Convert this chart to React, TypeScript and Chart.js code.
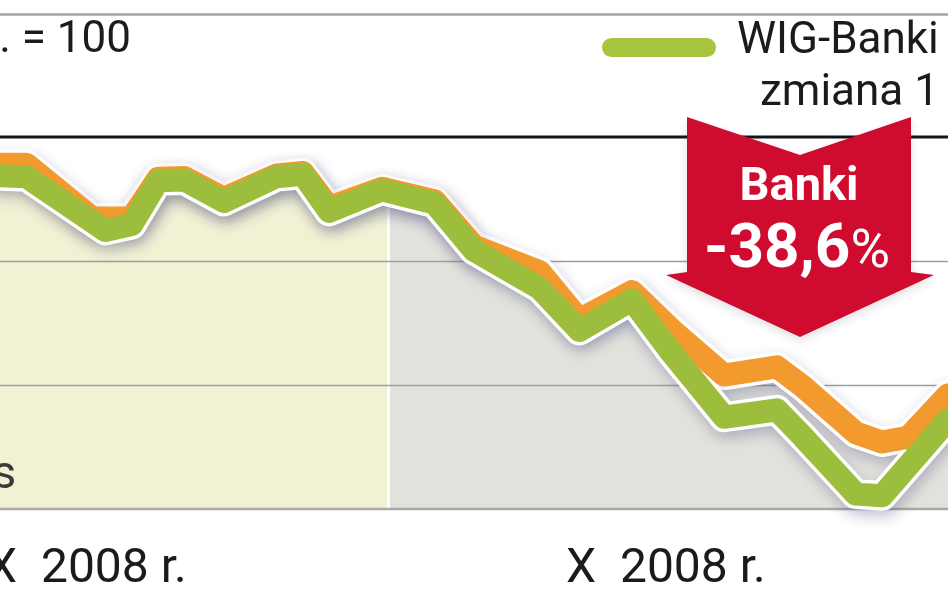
import React, { useEffect, useRef } from 'react';
import { Chart, registerables } from 'chart.js';

Chart.register(...registerables);

// Oś X: kolejne punkty czasowe widocznego fragmentu wykresu (0–72)
const T_BANKI = [0, 2, 8, 10, 12, 14, 17, 21, 23, 25, 29, 33, 36, 41, 44, 48, 51, 55, 59, 61, 65, 67, 72];
const WIG_BANKI = [100.3, 100.2, 93.7, 94.4, 99.7, 99.8, 97.2, 100.2, 100.5, 96.0, 98.6, 97.0, 91.3, 86.7, 81.6, 85.3, 78.9, 71.1, 72.0, 68.7, 61.8, 61.6, 70.8];
const T_WIG = [0, 2, 7, 10, 12, 14, 17, 21, 23, 25, 29, 33, 36, 41, 44, 48, 51, 55, 59, 61, 65, 67, 69, 72];
const WIG = [101.7, 101.7, 95.2, 95.2, 100.0, 100.1, 97.6, 100.4, 100.7, 96.5, 98.8, 97.3, 91.8, 88.7, 82.9, 86.3, 81.7, 76.2, 77.2, 74.8, 69.2, 68.1, 68.7, 73.8];

const Y_MIN = 60;
const Y_MAX = 105;
const GRID_VALUES = [75, 90];
const SPLIT_T = 29.5; // granica miesięcy (tło żółte / szare)

const TOP_LEFT_TEXT = '. = 100';
const LEGEND_LINE1 = 'WIG-Banki';
const LEGEND_LINE2 = 'zmiana 1';
const X_LABELS = ['X  2008 r.', 'X  2008 r.'];
const SIDE_TEXT = 's';
const ARROW_TITLE = 'Banki';
const ARROW_VALUE = '-38,6';
const ARROW_UNIT = '%';

const ORANGE = '#f29a2e';
const GREEN = '#9dbd3c';
const LEGEND_GREEN = '#a8c33f';
const YELLOW = '#f2f1d4';
const GRAY = '#e2e2dd';
const RED = '#cf0b30';
const TEXT = '#1b1b1b';

const OUTLINE_IDX = [2, 3];
const FILL_IDX = 4;

const decor = {
  id: 'decor',
  beforeDraw(chart: any) {
    const ctx = chart.ctx;
    ctx.save();
    ctx.fillStyle = '#ffffff';
    ctx.fillRect(0, 0, chart.width, chart.height);
    ctx.restore();
  },
  beforeDatasetDraw(chart: any, args: any) {
    if (OUTLINE_IDX.includes(args.index)) {
      const ctx = chart.ctx;
      ctx.save();
      ctx.shadowColor = 'rgba(70,70,120,0.33)';
      ctx.shadowBlur = 14;
      ctx.shadowOffsetX = 2;
      ctx.shadowOffsetY = 6;
    }
  },
  afterDatasetDraw(chart: any, args: any) {
    const ctx = chart.ctx;
    if (OUTLINE_IDX.includes(args.index)) {
      ctx.restore();
    }
    if (args.index === FILL_IDX) {
      const y = chart.scales.y;
      const { left, right } = chart.chartArea;
      ctx.save();
      ctx.strokeStyle = '#9e9e9e';
      ctx.lineWidth = 1.6;
      GRID_VALUES.forEach((v) => {
        const py = Math.round(y.getPixelForValue(v)) + 0.5;
        ctx.beginPath();
        ctx.moveTo(left, py);
        ctx.lineTo(right, py);
        ctx.stroke();
      });
      ctx.strokeStyle = '#a9a9a9';
      ctx.lineWidth = 2.5;
      const pb = y.getPixelForValue(Y_MIN);
      ctx.beginPath();
      ctx.moveTo(left, pb);
      ctx.lineTo(right, pb);
      ctx.stroke();
      ctx.restore();
    }
  },
  afterDraw(chart: any) {
    const ctx = chart.ctx;
    const y = chart.scales.y;
    const { left, right } = chart.chartArea;
    ctx.save();
    // top rules
    ctx.strokeStyle = '#a3a3a3';
    ctx.lineWidth = 2.5;
    ctx.beginPath();
    ctx.moveTo(0, 14.5);
    ctx.lineTo(chart.width, 14.5);
    ctx.stroke();
    ctx.strokeStyle = '#151515';
    ctx.lineWidth = 3;
    const pt = y.getPixelForValue(Y_MAX);
    ctx.beginPath();
    ctx.moveTo(left, pt);
    ctx.lineTo(right, pt);
    ctx.stroke();

    // texts
    ctx.fillStyle = TEXT;
    ctx.textBaseline = 'alphabetic';
    ctx.font = '44px Roboto';
    ctx.textAlign = 'right';
    ctx.fillText(TOP_LEFT_TEXT, 131, 52);
    ctx.textAlign = 'left';
    ctx.fillText(LEGEND_LINE1, 737, 53);
    ctx.fillText(LEGEND_LINE2, 760, 105);
    ctx.font = '48px Roboto';
    ctx.fillText(X_LABELS[0], -13, 582);
    ctx.fillText(X_LABELS[1], 566, 582);
    ctx.fillStyle = '#3a3a3a';
    ctx.font = '47px Roboto';
    ctx.fillText(SIDE_TEXT, -8, 488);

    // legend bar
    ctx.fillStyle = LEGEND_GREEN;
    ctx.beginPath();
    (ctx as any).roundRect(602, 38, 114, 19, 9.5);
    ctx.fill();

    // arrow
    ctx.save();
    ctx.shadowColor = 'rgba(0,0,0,0.12)';
    ctx.shadowBlur = 10;
    ctx.shadowOffsetY = 4;
    ctx.fillStyle = RED;
    ctx.beginPath();
    ctx.moveTo(687, 117);
    ctx.lineTo(800, 155);
    ctx.lineTo(911, 117);
    ctx.lineTo(911, 272);
    ctx.lineTo(934, 275);
    ctx.lineTo(800, 337);
    ctx.lineTo(666, 275);
    ctx.lineTo(687, 272);
    ctx.closePath();
    ctx.fill();
    ctx.restore();

    ctx.fillStyle = '#ffffff';
    ctx.textAlign = 'center';
    ctx.font = 'bold 47px Roboto';
    ctx.fillText(ARROW_TITLE, 799, 200);
    ctx.font = 'bold 62px Roboto';
    const w1 = ctx.measureText(ARROW_VALUE).width;
    ctx.font = '54px Roboto';
    const w2 = ctx.measureText(ARROW_UNIT).width;
    const start = 797 - (w1 + w2) / 2;
    ctx.textAlign = 'left';
    ctx.font = 'bold 62px Roboto';
    ctx.fillText(ARROW_VALUE, start, 267);
    ctx.font = '54px Roboto';
    ctx.fillText(ARROW_UNIT, start + w1, 267);
    ctx.restore();
  },
};

const bgColor = (c: any) => {
  const chart = c.chart;
  const area = chart.chartArea;
  if (!area || !chart.scales || !chart.scales.x) return YELLOW;
  const xs = chart.scales.x.getPixelForValue(SPLIT_T);
  const w = area.right - area.left;
  const clamp = (v: number) => Math.max(0, Math.min(1, v));
  const f1 = clamp((xs - 1.5 - area.left) / w);
  const f2 = clamp((xs + 1.5 - area.left) / w);
  const g = chart.ctx.createLinearGradient(area.left, 0, area.right, 0);
  g.addColorStop(0, YELLOW);
  g.addColorStop(f1, YELLOW);
  g.addColorStop(f1, '#ffffff');
  g.addColorStop(f2, '#ffffff');
  g.addColorStop(f2, GRAY);
  g.addColorStop(1, GRAY);
  return g;
};

export default function App() {
  const ref = useRef<HTMLCanvasElement>(null);
  useEffect(() => {
    const canvas = ref.current;
    if (!canvas) return;
    const green = T_BANKI.map((t, i) => ({ x: t, y: WIG_BANKI[i] }));
    const orange = T_WIG.map((t, i) => ({ x: t, y: WIG[i] }));
    const lineBase: any = {
      pointRadius: 0,
      pointHoverRadius: 0,
      tension: 0,
      borderJoinStyle: 'round',
      borderCapStyle: 'round',
      fill: false,
      clip: false,
    };
    const chart = new Chart(canvas, {
      type: 'line',
      data: {
        datasets: [
          { ...lineBase, label: 'WIG-Banki', data: green, borderColor: GREEN, borderWidth: 23, order: 1 },
          { ...lineBase, label: 'WIG', data: orange, borderColor: ORANGE, borderWidth: 23, order: 2 },
          { ...lineBase, label: 'obrys WIG-Banki', data: green, borderColor: '#ffffff', borderWidth: 30, order: 3 },
          { ...lineBase, label: 'obrys WIG', data: orange, borderColor: '#ffffff', borderWidth: 30, order: 4 },
          {
            label: 'tło',
            data: orange,
            pointRadius: 0,
            borderWidth: 0,
            borderColor: 'rgba(0,0,0,0)',
            tension: 0,
            fill: 'start',
            backgroundColor: bgColor,
            order: 5,
          } as any,
        ],
      },
      options: {
        animation: false,
        responsive: true,
        maintainAspectRatio: false,
        events: [],
        layout: { padding: { top: 137, bottom: 84, left: 0, right: 0 } },
        scales: {
          x: { type: 'linear', min: 0, max: 72, display: false },
          y: { type: 'linear', min: Y_MIN, max: Y_MAX, display: false },
        },
        plugins: { legend: { display: false }, tooltip: { enabled: false } },
      } as any,
      plugins: [decor as any],
    });
    return () => chart.destroy();
  }, []);
  return (
    <div style={{ position: 'absolute', left: 0, top: 0, width: 948, height: 593, background: '#fff' }}>
      <canvas ref={ref} />
    </div>
  );
}
